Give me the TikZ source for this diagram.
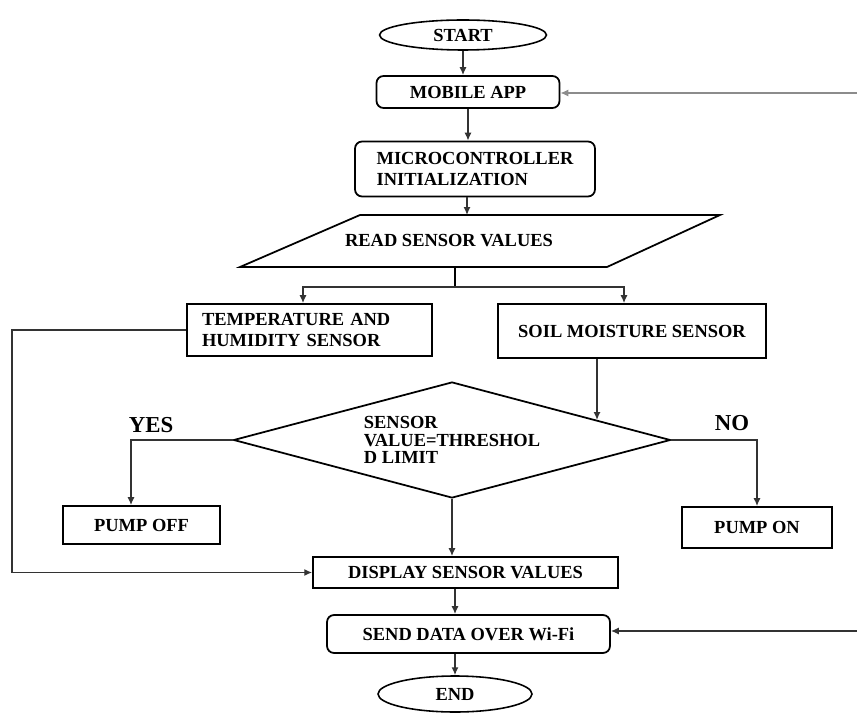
\documentclass[tikz,border=0pt]{standalone}
\usepackage{fontspec}
\setmainfont{Liberation Serif}
\usetikzlibrary{shapes.geometric,arrows.meta}

\begin{document}
\begin{tikzpicture}[x=0.02cm, y=-0.02cm,
    font=\fontsize{10.5}{11.5}\selectfont\bfseries,
    line width=0.8pt,
    box/.style={draw, line width=1pt, inner sep=2pt},
    rbox/.style={box, rounded corners=4pt},
    oval/.style={draw, ellipse, line width=0.9pt, inner sep=0pt},
    arr/.style={-{Latex[length=4.5pt,width=4pt]}, draw=black!80}]
    \useasboundingbox (0,0) rectangle (857,712);

    % Define the nodes
    % Top part
    \node[oval, minimum width=3.34cm, minimum height=0.6cm] (start) at (463,35) {START};
    \node[rbox, minimum width=3.66cm, minimum height=0.64cm] (mobile) at (468,92) {MOBILE APP};
    \node[rbox, minimum width=4.8cm, minimum height=1.1cm, align=left] (micro) at (475,169) {MICROCONTROLLER\\INITIALIZATION};

    % Read sensor values (parallelogram)
    \coordinate (p1) at (360,215);
    \coordinate (p2) at (720,215);
    \coordinate (p3) at (607,267);
    \coordinate (p4) at (240,267);
    \draw[line width=1pt] (p1) -- (p2) -- (p3) -- (p4) -- cycle;
    \node (read) at (449,241) {READ SENSOR VALUES};
    \coordinate (readin) at (467,215);
    \coordinate (readout) at (455,267);
    \coordinate (split) at (455,287);
    \coordinate (tl) at (303,287);
    \coordinate (tr) at (624,287);

    % Sensors
    \node[box, minimum width=4.9cm, minimum height=1.04cm, text width=4.3cm, align=left] (temp) at (309.5,330) {TEMPERATURE AND\\HUMIDITY SENSOR};
    \node[box, minimum width=5.36cm, minimum height=1.08cm] (soil) at (632,331) {SOIL MOISTURE SENSOR};

    % Decision
    \node[draw, diamond, aspect=3.77, inner sep=0pt, line width=1pt, minimum width=8.74cm, minimum height=2.32cm, align=left, font=\fontsize{10.5}{10}\selectfont\bfseries] (dec) at (452,440) {SENSOR\\VALUE=THRESHOL\\D LIMIT};
    \coordinate (soilin) at (597,420);
    \node[font=\fontsize{13}{14}\selectfont\bfseries] (yes) at (151,425) {YES};
    \node[font=\fontsize{13}{14}\selectfont\bfseries] (no) at (732,423) {NO};

    % Pumps
    \node[box, minimum width=3.14cm, minimum height=0.76cm] (pumpoff) at (141.5,525) {PUMP OFF};
    \node[box, minimum width=3.0cm, minimum height=0.82cm] (pumpon) at (757,527.5) {PUMP ON};

    % Bottom part
    \node[box, minimum width=6.1cm, minimum height=0.62cm] (display) at (465.5,572.5) {DISPLAY SENSOR VALUES};
    \node[rbox, minimum width=5.66cm, minimum height=0.76cm] (send) at (468.5,634) {SEND DATA OVER Wi-Fi};
    \node[oval, minimum width=3.08cm, minimum height=0.72cm] (stop) at (455,694) {END};

    % Draw lines
    % Main flow
    \draw[arr] (start) -- (start |- mobile.north);
    \draw[arr] (mobile.south) -- (mobile.south |- micro.north);
    \draw[arr] (readin |- micro.south) -- (readin);
    \draw (readout) -- (split);
    \draw[arr] (split) -- (tl) -- (tl |- temp.north);
    \draw[arr] (split) -- (tr) -- (tr |- soil.north);
    \draw[arr] (soilin |- soil.south) -- (soilin);

    % Yes / no branches
    \draw[arr] (dec.west) -| ([xshift=-0.21cm]pumpoff.north);
    \draw[arr] (dec.east) -| (pumpon.north);
    \draw[arr] (dec.south) -- (dec.south |- display.north);

    % Feedback lines
    \coordinate (lfb) at (12,330);
    \draw[arr] (temp.west) -- (lfb) |- (display.west);
    \coordinate (rtop) at (857,93);
    \draw[arr, draw=black!45] (rtop) -- (rtop -| mobile.east);
    \coordinate (rbot) at (857,631);
    \draw[arr] (rbot) -- (rbot -| send.east);

    % To the end
    \draw[arr] (stop |- display.south) -- (stop |- send.north);
    \draw[arr] (stop |- send.south) -- (stop);
\end{tikzpicture}
\end{document}
